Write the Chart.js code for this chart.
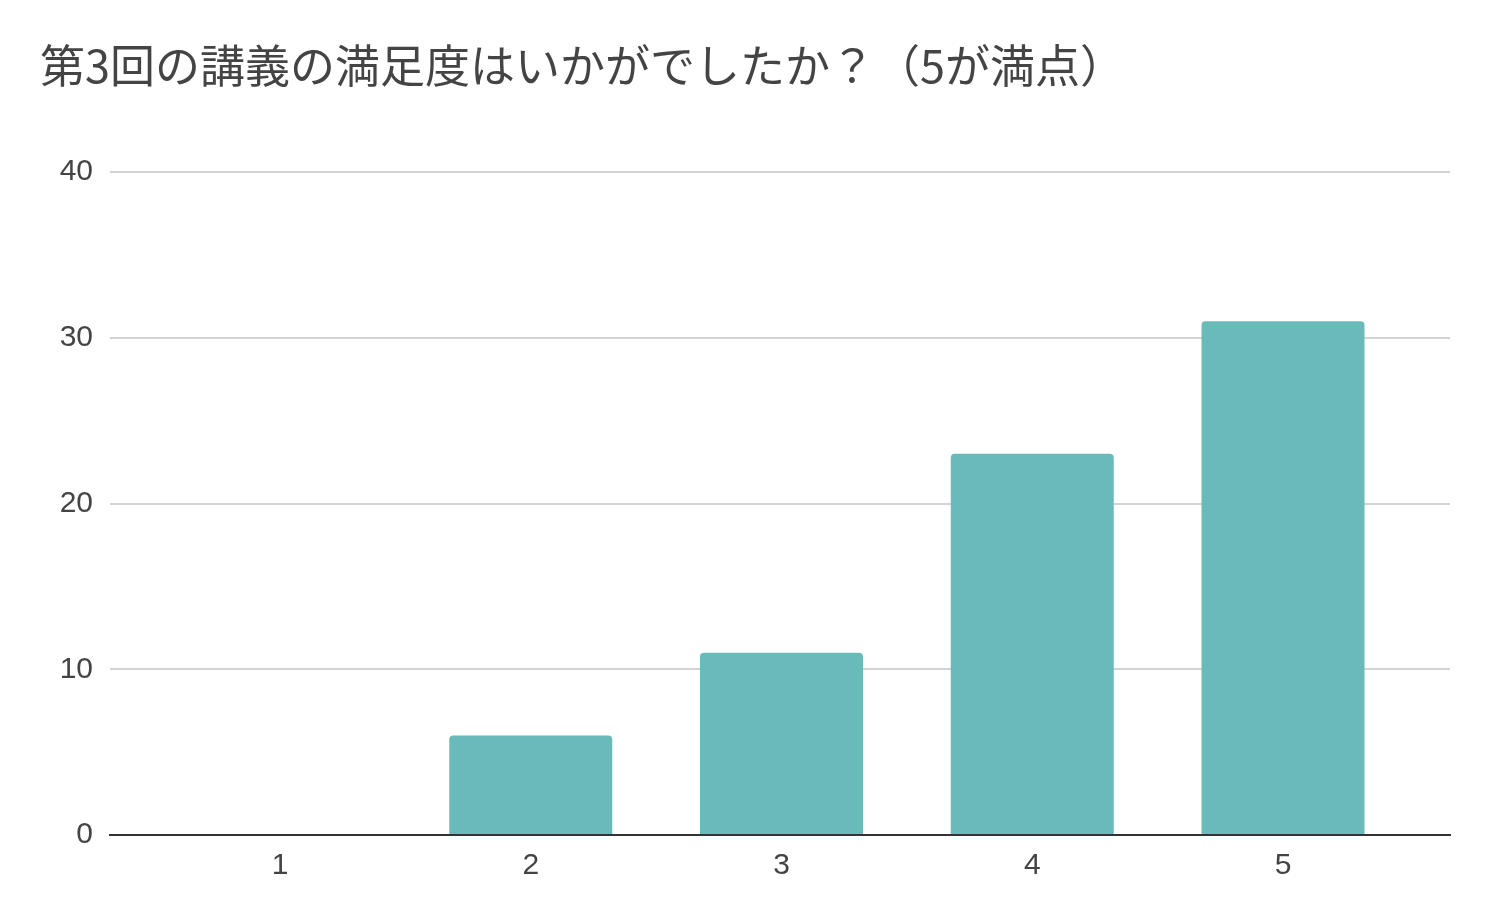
<!DOCTYPE html>
<html lang="ja">
<head>
  <meta charset="UTF-8">
  <title>第3回の講義の満足度</title>
  <script src="https://cdn.jsdelivr.net/npm/chart.js"></script>
  <style>
    body { margin: 0; background: #fff; }
    #wrap { width: 1496px; height: 924px; }
  </style>
</head>
<body>
  <div id="wrap"><canvas id="myChart"></canvas></div>

  <script>
    const titleText = '第3回の講義の満足度はいかがでしたか？（5が満点）';
    const categories = [1, 2, 3, 4, 5];
    const counts = [0, 6, 11, 23, 31];
    const yTicks = [0, 10, 20, 30, 40];

    const textColor = '#444444';
    const barColor = '#69bbba';
    const tickFont = { family: '"Liberation Sans", Arial, sans-serif', size: 30 };

    const config = {
      type: 'bar',
      data: {
        labels: categories,
        datasets: [{
          label: '回答数',
          data: counts,
          backgroundColor: barColor,
          borderRadius: { topLeft: 4, topRight: 4 },
          borderSkipped: 'start',
          barPercentage: 0.65,
          categoryPercentage: 1
        }]
      },
      options: {
        responsive: true,
        maintainAspectRatio: false,
        animation: false,
        layout: { padding: { left: 40, right: 46, top: 0, bottom: 0 } },
        plugins: {
          legend: { display: false },
          tooltip: { enabled: false },
          title: {
            display: true,
            text: titleText,
            align: 'start',
            color: textColor,
            font: { family: '"Noto Sans CJK JP", sans-serif', size: 45, weight: 'normal' },
            padding: { top: 39, bottom: 79 }
          }
        },
        scales: {
          x: {
            type: 'linear',
            offset: false,
            // the answer band sits inset from the plot edges, like the original
            min: 0.322,
            max: 5.666,
            afterBuildTicks: s => { s.ticks = categories.map(v => ({ value: v })); },
            grid: { display: false, drawTicks: false },
            border: { display: true, color: '#333333', width: 2 },
            ticks: { color: textColor, padding: 13, font: tickFont },
            afterFit: s => { s.height = 89; }
          },
          y: {
            min: yTicks[0],
            max: yTicks[yTicks.length - 1],
            afterBuildTicks: s => { s.ticks = yTicks.map(v => ({ value: v })); },
            grid: {
              drawTicks: false,
              lineWidth: 2,
              color: c => (c.tick && c.tick.value === 0) ? '#333333' : '#d3d3d3'
            },
            border: { display: false },
            ticks: { color: textColor, padding: 17, font: tickFont },
            afterFit: s => { s.width = 70; }
          }
        }
      }
    };

    const ctx = document.getElementById('myChart').getContext('2d');
    const myChart = new Chart(ctx, config);
  </script>
</body>
</html>
